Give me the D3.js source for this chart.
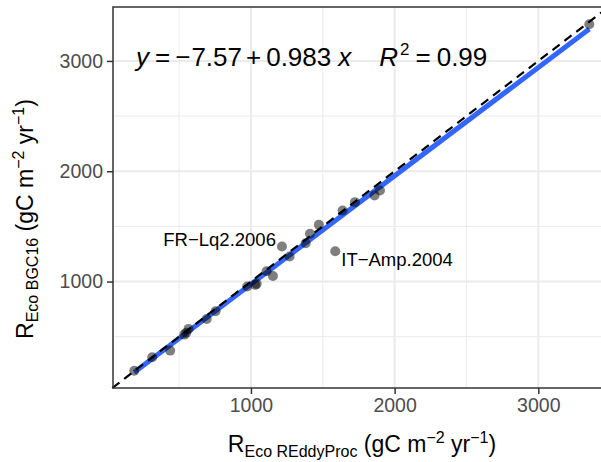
<!DOCTYPE html>
<html>
<head>
<meta charset="utf-8">
<script src="https://cdn.jsdelivr.net/npm/d3@7"></script>
<style>
  body { margin: 0; background: #fff; }
  svg { font-family: "Liberation Sans", Arial, sans-serif; }
</style>
</head>
<body>
<script>
// site-years: REddyProc vs BGC16 ecosystem respiration (gC m-2 yr-1)
var reddyProc = [188, 313, 438, 536, 550, 566, 692, 754, 974, 1030, 1040, 1109, 1153, 1216, 1269, 1381, 1411, 1473, 1587, 1638, 1724, 1860, 1898, 3355];
var bgc16     = [192, 313, 374, 519, 535, 571, 661, 731, 955, 970, 979, 1094, 1051, 1318, 1227, 1348, 1433, 1514, 1275, 1644, 1720, 1780, 1826, 3332];

// labelled outliers
var labelNames = ["FR\u2212Lq2.2006", "IT\u2212Amp.2004"];
var labelX = [1216, 1587];
var labelY = [1318, 1275];

// fit shown in the panel
var intercept = -7.57,
    slope = 0.983,
    rSquared = 0.99;

var xTicks = [1000, 2000, 3000],
    yTicks = [1000, 2000, 3000],
    minorTicks = [500, 1500, 2500];

setChart();

function setChart(){
    var width = 601,
        height = 462;

    //panel box (right side runs past the window, like the original)
    var left = 113, right = 612, top = 7, bottom = 388;

    var svg = d3.select("body")
        .append("svg")
        .attr("width", width)
        .attr("height", height);

    var x = d3.scaleLinear().domain([40, 3513]).range([left, right]);
    var y = d3.scaleLinear().domain([35, 3489]).range([bottom, top]);

    var panel = svg.append("g");

    //grid
    panel.selectAll(".minorx").data(minorTicks).enter().append("line")
        .attr("x1", d => x(d)).attr("x2", d => x(d))
        .attr("y1", top).attr("y2", bottom)
        .attr("stroke", "#ebebeb").attr("stroke-width", 1);
    panel.selectAll(".minory").data(minorTicks).enter().append("line")
        .attr("y1", d => y(d)).attr("y2", d => y(d))
        .attr("x1", left).attr("x2", right)
        .attr("stroke", "#ebebeb").attr("stroke-width", 1);
    panel.selectAll(".majorx").data(xTicks).enter().append("line")
        .attr("x1", d => x(d)).attr("x2", d => x(d))
        .attr("y1", top).attr("y2", bottom)
        .attr("stroke", "#ebebeb").attr("stroke-width", 2);
    panel.selectAll(".majory").data(yTicks).enter().append("line")
        .attr("y1", d => y(d)).attr("y2", d => y(d))
        .attr("x1", left).attr("x2", right)
        .attr("stroke", "#ebebeb").attr("stroke-width", 2);

    //fitted line over the range of the data
    var xmin = d3.min(reddyProc), xmax = d3.max(reddyProc);
    panel.append("line")
        .attr("x1", x(xmin)).attr("y1", y(intercept + slope * xmin))
        .attr("x2", x(xmax)).attr("y2", y(intercept + slope * xmax))
        .attr("stroke", "#3366ff").attr("stroke-width", 5);

    //points
    panel.selectAll(".pt").data(reddyProc).enter().append("circle")
        .attr("cx", d => x(d))
        .attr("cy", (d, i) => y(bgc16[i]))
        .attr("r", 5)
        .attr("fill", "#000")
        .attr("fill-opacity", 0.5);

    //1:1 line
    panel.append("line")
        .attr("x1", x(35)).attr("y1", y(35))
        .attr("x2", x(3489)).attr("y2", y(3489))
        .attr("stroke", "#000").attr("stroke-width", 2.2)
        .attr("stroke-dasharray", "9,6");

    //point labels
    svg.append("text")
        .attr("x", x(labelX[0]) - 6).attr("y", y(labelY[0]))
        .attr("text-anchor", "end")
        .attr("font-size", 18.5)
        .text(labelNames[0]);
    svg.append("text")
        .attr("x", x(labelX[1]) + 6).attr("y", y(labelY[1]) + 15)
        .attr("font-size", 18.5)
        .text(labelNames[1]);

    //equation
    var eq = svg.append("text")
        .attr("x", 136).attr("y", 66)
        .attr("font-size", 26);
    eq.append("tspan").attr("font-style", "italic").text("y");
    eq.append("tspan").attr("dx", 6).text("=");
    eq.append("tspan").attr("dx", 5).text("\u2212");
    eq.append("tspan").attr("dx", 1).text((-intercept).toFixed(2));
    eq.append("tspan").attr("dx", 4).text("+");
    eq.append("tspan").attr("dx", 5).text(slope.toFixed(3));
    eq.append("tspan").attr("dx", 7).attr("font-style", "italic").text("x");
    eq.append("tspan").attr("dx", 28).attr("font-style", "italic").text("R");
    eq.append("tspan").attr("dx", 2).attr("dy", -11).attr("font-size", 17).text("2");
    eq.append("tspan").attr("dy", 11).attr("dx", 6).text("=");
    eq.append("tspan").attr("dx", 6).text(rSquared.toFixed(2));

    //panel border
    svg.append("rect")
        .attr("x", left).attr("y", top)
        .attr("width", right - left).attr("height", bottom - top)
        .attr("fill", "none").attr("stroke", "#333").attr("stroke-width", 1.5);

    //axes
    var xAxis = svg.append("g")
        .attr("transform", "translate(0," + bottom + ")")
        .call(d3.axisBottom(x).tickValues(xTicks).tickSize(6).tickPadding(4).tickFormat(d3.format("d")));
    var yAxis = svg.append("g")
        .attr("transform", "translate(" + left + ",0)")
        .call(d3.axisLeft(y).tickValues(yTicks).tickSize(6).tickPadding(4).tickFormat(d3.format("d")));
    [xAxis, yAxis].forEach(function(a){
        a.select(".domain").remove();
        a.selectAll(".tick line").attr("stroke", "#333").attr("stroke-width", 1.5);
        a.selectAll(".tick text")
            .attr("fill", "#4d4d4d")
            .attr("font-size", 19.5)
            .attr("font-family", "Liberation Sans, Arial, sans-serif");
    });

    //axis titles
    var xt = svg.append("text")
        .attr("x", 362).attr("y", 452)
        .attr("text-anchor", "middle")
        .attr("font-size", 23);
    writeTitle(xt, "Eco REddyProc");

    var yt = svg.append("text")
        .attr("transform", "translate(33,219) rotate(-90)")
        .attr("text-anchor", "middle")
        .attr("font-size", 23);
    writeTitle(yt, "Eco BGC16");
}

function writeTitle(t, sub){
    t.append("tspan").text("R");
    t.append("tspan").attr("dy", 5).attr("font-size", 16).text(sub);
    t.append("tspan").attr("dy", -5).text(" (gC m");
    t.append("tspan").attr("dy", -9).attr("font-size", 16).text("\u22122");
    t.append("tspan").attr("dy", 9).text(" yr");
    t.append("tspan").attr("dy", -9).attr("font-size", 16).text("\u22121");
    t.append("tspan").attr("dy", 9).text(")");
}
</script>
</body>
</html>
